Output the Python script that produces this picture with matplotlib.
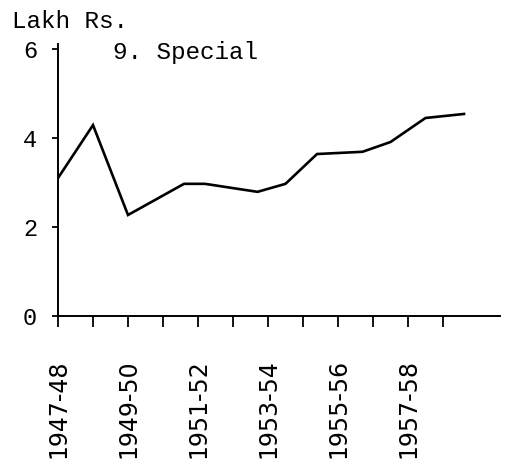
import matplotlib.pyplot as plt
import matplotlib as mpl

# (Lakh Rs.), x in years from 1947-48
year_pos = [0, 1, 2, 3.6, 4.2, 5.7, 6.5, 7.4, 8.7, 9.5, 10.5, 11.6]
special = [3.10, 4.29, 2.27, 2.97, 2.97, 2.79, 2.97, 3.64, 3.69, 3.91, 4.45, 4.54]

tick_pos = list(range(12))
tick_labels = ['1947-48', '', '1949-50', '', '1951-52', '', '1953-54', '',
               '1955-56', '', '1957-58', '']
y_ticks = [0, 2, 4, 6]

mono = 'Liberation Mono'

fig = plt.figure(figsize=(5.07, 4.65), dpi=100)
ax = fig.add_axes([58 / 507, 149 / 465, 442 / 507, 272 / 465])

ax.plot(year_pos, special, color='black', linewidth=1.9, solid_joinstyle='miter')

ax.set_xlim(0, 442 / 35)
ax.set_ylim(0, 272 / 44.5)

for s in ['top', 'right']:
    ax.spines[s].set_visible(False)
for s in ['left', 'bottom']:
    ax.spines[s].set_linewidth(1.4)
    ax.spines[s].set_color('black')

ax.set_xticks(tick_pos)
ax.set_xticklabels(tick_labels, rotation=90, fontsize=17, family='DejaVu Sans')
ax.tick_params(axis='x', direction='out', length=8, width=1.3, pad=23)

ax.set_yticks(y_ticks)
ax.set_yticklabels([str(v) for v in y_ticks], fontsize=17, family=mono)
ax.tick_params(axis='y', direction='out', length=4, width=1.3, pad=11)

fig.text(12 / 507, 1 - 28 / 465, 'Lakh Rs.', fontsize=17.5, family=mono,
         va='baseline', ha='left')
fig.text(113 / 507, 1 - 59 / 465, '9. Special', fontsize=17.5, family=mono,
         va='baseline', ha='left')

fig.savefig('out.png', dpi=100)
